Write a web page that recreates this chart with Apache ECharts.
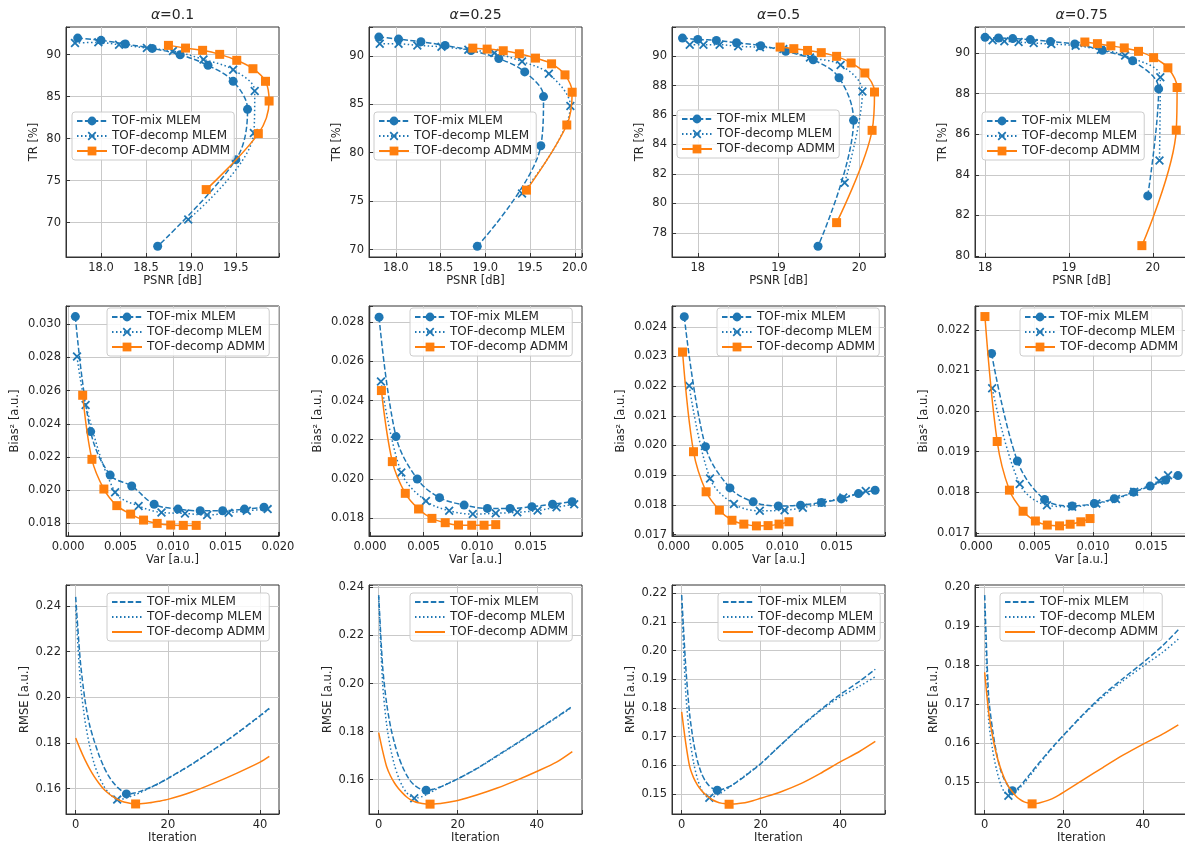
<!DOCTYPE html>
<html>
<head>
<meta charset="utf-8">
<title>TOF-mix vs TOF-decomp</title>
<script src="https://cdn.jsdelivr.net/npm/echarts@6.0.0/dist/echarts.min.js"></script>
<style>
  html, body { margin: 0; padding: 0; background: #fff; overflow: hidden; }
  #chart { width: 1185px; height: 850px; }
</style>
</head>
<body>
<div id="chart"></div>
<script>
// ---- data ----
const names = ['TOF-mix MLEM', 'TOF-decomp MLEM', 'TOF-decomp ADMM'];
const alphas = ['0.1', '0.25', '0.5', '0.75'];

// row 1: [PSNR dB, TR %]
const mix1 = [[17.74,91.98],[18.00,91.71],[18.27,91.27],[18.57,90.75],[18.88,90.00],[19.19,88.73],[19.47,86.83],[19.63,83.49],[19.50,77.50],[18.63,67.18]];
const dec1 = [[17.71,91.39],[17.97,91.47],[18.20,91.19],[18.51,90.79],[18.80,90.44],[19.14,89.44],[19.47,88.21],[19.71,85.67],[19.70,80.67],[18.97,70.36]];
const adm1 = [[18.75,91.11],[18.94,90.79],[19.13,90.52],[19.32,90.04],[19.51,89.33],[19.69,88.33],[19.83,86.83],[19.87,84.48],[19.75,80.60],[19.17,73.93]];

const mix2 = [[17.81,91.93],[18.03,91.72],[18.28,91.45],[18.55,91.07],[18.84,90.55],[19.15,89.72],[19.44,88.34],[19.65,85.79],[19.62,80.72],[18.91,70.34]];
const dec2 = [[17.82,91.24],[18.03,91.24],[18.24,91.07],[18.51,90.93],[18.81,90.62],[19.10,90.28],[19.41,89.41],[19.71,88.14],[19.95,84.83],[19.41,75.79]];
const adm2 = [[18.86,90.79],[19.02,90.69],[19.20,90.52],[19.38,90.21],[19.56,89.76],[19.74,89.17],[19.89,88.03],[19.97,86.24],[19.91,82.86],[19.46,76.14]];

const mix3 = [[17.81,91.22],[18.00,91.13],[18.23,91.06],[18.48,90.90],[18.78,90.70],[19.09,90.32],[19.43,89.75],[19.75,88.53],[19.93,85.64],[19.49,77.10]];
const dec3 = [[17.90,90.77],[18.07,90.77],[18.27,90.77],[18.50,90.66],[18.77,90.60],[19.06,90.47],[19.39,89.90],[19.77,89.40],[20.04,87.60],[19.82,81.40]];
const adm3 = [[19.02,90.61],[19.19,90.50],[19.36,90.38],[19.53,90.23],[19.72,89.98],[19.90,89.53],[20.07,88.85],[20.19,87.56],[20.16,84.96],[19.72,78.70]];

const mix4 = [[18.00,90.77],[18.16,90.74],[18.33,90.71],[18.54,90.66],[18.78,90.56],[19.07,90.44],[19.40,90.13],[19.76,89.62],[20.07,88.23],[19.94,82.96]];
const dec4 = [[18.09,90.63],[18.23,90.58],[18.40,90.54],[18.58,90.49],[18.79,90.44],[19.08,90.36],[19.38,90.16],[19.67,89.87],[20.09,88.81],[20.08,84.70]];
const adm4 = [[19.19,90.54],[19.34,90.46],[19.50,90.35],[19.66,90.25],[19.83,90.08],[20.01,89.77],[20.18,89.27],[20.29,88.30],[20.28,86.20],[19.87,80.51]];

// row 2: [Var, Bias^2]
const mix5 = [[0.00069,0.03046],[0.00215,0.02353],[0.00401,0.02091],[0.00606,0.02025],[0.00820,0.01915],[0.01047,0.01886],[0.01259,0.01876],[0.01473,0.01876],[0.01681,0.01886],[0.01867,0.01897]];
const dec5 = [[0.00085,0.02805],[0.00167,0.02514],[0.00448,0.01987],[0.00672,0.01905],[0.00890,0.01866],[0.01114,0.01860],[0.01325,0.01850],[0.01530,0.01864],[0.01703,0.01876],[0.01902,0.01886]];
const adm5 = [[0.00139,0.02572],[0.00227,0.02186],[0.00341,0.02007],[0.00464,0.01907],[0.00596,0.01856],[0.00719,0.01820],[0.00849,0.01800],[0.00978,0.01790],[0.01098,0.01788],[0.01221,0.01788]];

const mix6 = [[0.00084,0.02826],[0.00242,0.02216],[0.00441,0.01999],[0.00649,0.01904],[0.00879,0.01866],[0.01096,0.01849],[0.01308,0.01849],[0.01512,0.01858],[0.01705,0.01870],[0.01888,0.01883]];
const dec6 = [[0.00102,0.02497],[0.00292,0.02032],[0.00522,0.01887],[0.00739,0.01837],[0.00960,0.01820],[0.01174,0.01824],[0.01376,0.01829],[0.01565,0.01838],[0.01742,0.01855],[0.01907,0.01870]];
const adm6 = [[0.00106,0.02451],[0.00208,0.02088],[0.00329,0.01926],[0.00453,0.01846],[0.00578,0.01798],[0.00702,0.01776],[0.00826,0.01764],[0.00950,0.01763],[0.01065,0.01763],[0.01174,0.01766]];

const mix7 = [[0.00098,0.02434],[0.00293,0.01996],[0.00518,0.01857],[0.00732,0.01810],[0.00963,0.01796],[0.01168,0.01799],[0.01360,0.01808],[0.01543,0.01820],[0.01701,0.01838],[0.01854,0.01849]];
const dec7 = [[0.00143,0.02201],[0.00335,0.01889],[0.00555,0.01803],[0.00793,0.01780],[0.01021,0.01782],[0.01189,0.01790],[0.01363,0.01807],[0.01561,0.01825],[0.01768,0.01847]];
const adm7 = [[0.00082,0.02315],[0.00183,0.01979],[0.00299,0.01844],[0.00421,0.01782],[0.00537,0.01748],[0.00646,0.01735],[0.00762,0.01729],[0.00869,0.01730],[0.00970,0.01735],[0.01061,0.01743]];

const mix8 = [[0.00131,0.02142],[0.00352,0.01877],[0.00585,0.01782],[0.00821,0.01766],[0.01011,0.01772],[0.01182,0.01784],[0.01347,0.01800],[0.01489,0.01815],[0.01622,0.01830],[0.01727,0.01841]];
const dec8 = [[0.00136,0.02056],[0.00372,0.01820],[0.00605,0.01768],[0.00821,0.01764],[0.01028,0.01772],[0.01196,0.01783],[0.01352,0.01801],[0.01565,0.01828],[0.01642,0.01842]];
const adm8 = [[0.00074,0.02233],[0.00179,0.01925],[0.00284,0.01805],[0.00401,0.01753],[0.00506,0.01729],[0.00608,0.01719],[0.00713,0.01717],[0.00804,0.01721],[0.00895,0.01727],[0.00974,0.01735]];

// row 3: RMSE per iteration
const itShort = [0,1,2,3,4,5,6,7,8,9,10,11,12,13,14,16,18,20,25,30,35,40,42];
const itLong  = [0,1,2,3,4,5,6,7,8,9,10,11,12,13,14,16,18,20,25,30,35,40,45,49];

const mix9  = [0.244,0.216,0.199,0.188,0.181,0.175,0.170,0.166,0.163,0.1607,0.159,0.1577,0.1578,0.1582,0.1588,0.1604,0.1623,0.1645,0.1705,0.1772,0.1843,0.1920,0.1952];
const dec9  = [0.240,0.207,0.190,0.179,0.171,0.1655,0.1615,0.1585,0.1565,0.1552,0.1554,0.1559,0.1566,0.1574,0.1583,0.1602,0.1622,0.1644,0.1704,0.1771,0.1842,0.1918,0.1950];
const adm9  = [0.1822,0.1772,0.1727,0.1688,0.1654,0.1625,0.1600,0.1581,0.1566,0.1554,0.1545,0.1539,0.1535,0.1533,0.1534,0.1538,0.1545,0.1553,0.1584,0.1624,0.1668,0.1716,0.1741];

const mix10 = [0.2368,0.207,0.1918,0.1821,0.1752,0.1697,0.1655,0.1621,0.1595,0.1577,0.1566,0.1559,0.1556,0.1557,0.1561,0.1572,0.1587,0.1603,0.1648,0.1700,0.1752,0.1806,0.1860,0.1905];
const dec10 = [0.236,0.200,0.183,0.173,0.166,0.1610,0.1573,0.1547,0.1531,0.1523,0.1525,0.1530,0.1537,0.1546,0.1555,0.1572,0.1588,0.1603,0.1647,0.1698,0.1750,0.1804,0.1858,0.1902];
const adm10 = [0.1796,0.1720,0.1655,0.1615,0.1586,0.1563,0.1545,0.1529,0.1517,0.1509,0.1504,0.1501,0.1499,0.1498,0.1499,0.1502,0.1507,0.1513,0.1537,0.1565,0.1598,0.1634,0.1673,0.1717];

const mix11 = [0.2194,0.195,0.178,0.168,0.1615,0.1572,0.1545,0.1528,0.1518,0.1513,0.1515,0.1519,0.1525,0.1533,0.1542,0.1562,0.1583,0.1605,0.1670,0.1734,0.1792,0.1846,0.1893,0.1935];
const dec11 = [0.2165,0.186,0.170,0.161,0.1552,0.1515,0.1494,0.1487,0.1490,0.1496,0.1504,0.1513,0.1523,0.1533,0.1543,0.1564,0.1585,0.1606,0.1670,0.1732,0.1789,0.1838,0.1876,0.1909];
const adm11 = [0.1786,0.1680,0.1597,0.1557,0.1531,0.1512,0.1498,0.1487,0.1478,0.1472,0.1468,0.1466,0.1464,0.1465,0.1466,0.1469,0.1476,0.1485,0.1507,0.1535,0.1571,0.1611,0.1648,0.1683];

const mix12 = [0.198,0.172,0.1634,0.1574,0.1532,0.1506,0.1489,0.1478,0.1481,0.1490,0.1502,0.1515,0.1527,0.1540,0.1552,0.1576,0.1599,0.1621,0.1675,0.1724,0.1766,0.1806,0.1850,0.1891];
const dec12 = [0.195,0.166,0.1583,0.1532,0.1496,0.1474,0.1465,0.1468,0.1476,0.1486,0.1497,0.1510,0.1523,0.1536,0.1549,0.1574,0.1598,0.1620,0.1673,0.1720,0.1760,0.1797,0.1833,0.1867];
const adm12 = [0.1782,0.1680,0.1617,0.1570,0.1536,0.1509,0.1489,0.1475,0.1463,0.1455,0.1449,0.1446,0.1444,0.1445,0.1447,0.1453,0.1462,0.1474,0.1506,0.1538,0.1569,0.1597,0.1623,0.1647];

// ---- layout / styles ----
const FONT = 'DejaVu Sans';
const TXT = '#262626';
const BLUE = '#1f77b4', ORANGE = '#ff7f0e';
const X_MARK = 'path://M1.4,0 L5,3.6 L8.6,0 L10,1.4 L6.4,5 L10,8.6 L8.6,10 L5,6.4 L1.4,10 L0,8.6 L3.6,5 L0,1.4 Z';
const looks = [
  { color: BLUE, dash: [5.5, 2.4], symbol: 'circle', size: 9 },
  { color: BLUE, dash: [1.5, 2.5], symbol: X_MARK, size: 9 },
  { color: ORANGE, dash: 'solid', symbol: 'rect', size: 9 }
];

const colLeft = [66, 369, 672, 975];
const rowTop = [27, 306, 585];
const boxW = 213;
const boxH = [230, 230, 229];

// per panel: x range, y range, x step, y step, x decimals, y decimals
const axesCfg = [
  { xr: [17.61, 19.98], yr: [65.9, 93.3], xs: 0.5, ys: 5, xd: 1, yd: 0 },
  { xr: [17.70, 20.08], yr: [69.24, 92.97], xs: 0.5, ys: 5, xd: 1, yd: 0 },
  { xr: [17.68, 20.32], yr: [76.37, 91.97], xs: 1, ys: 2, xd: 0, yd: 0 },
  { xr: [17.88, 20.42], yr: [79.95, 91.28], xs: 1, ys: 2, xd: 0, yd: 0 },
  { xr: [-0.0002, 0.0201], yr: [0.01724, 0.0311], xs: 0.005, ys: 0.002, xd: 3, yd: 3 },
  { xr: [-0.0001, 0.0198], yr: [0.01708, 0.02883], xs: 0.005, ys: 0.002, xd: 3, yd: 3 },
  { xr: [-0.00015, 0.01945], yr: [0.01695, 0.0247], xs: 0.005, ys: 0.001, xd: 3, yd: 3 },
  { xr: [-0.00011, 0.01813], yr: [0.01692, 0.02259], xs: 0.005, ys: 0.001, xd: 3, yd: 3 },
  { xr: [-2.1, 44.1], yr: [0.1489, 0.2492], xs: 20, ys: 0.02, xd: 0, yd: 2 },
  { xr: [-2.45, 51.45], yr: [0.1457, 0.241], xs: 20, ys: 0.02, xd: 0, yd: 2 },
  { xr: [-2.45, 51.45], yr: [0.143, 0.2229], xs: 20, ys: 0.01, xd: 0, yd: 2 },
  { xr: [-2.45, 51.45], yr: [0.1418, 0.2006], xs: 20, ys: 0.01, xd: 0, yd: 2 }
];
const rowNames = [
  { x: 'PSNR [dB]', y: 'TR [%]', xg: 18, yg: 26 },
  { x: 'Var [a.u.]', y: 'Bias\u00b2 [a.u.]', xg: 16, yg: 45 },
  { x: 'Iteration', y: 'RMSE [a.u.]', xg: 17, yg: 35 }
];
const legendPos = [
  [72, 112], [374, 112], [677, 110], [982, 112],
  [107, 308], [410, 308], [717, 308], [1020, 308],
  [107, 593], [410, 593], [718, 593], [1000, 593]
];

const scatterRows = [
  [mix1, dec1, adm1], [mix2, dec2, adm2], [mix3, dec3, adm3], [mix4, dec4, adm4],
  [mix5, dec5, adm5], [mix6, dec6, adm6], [mix7, dec7, adm7], [mix8, dec8, adm8]
];
const rmseRows = [
  [itShort, mix9, dec9, adm9], [itLong, mix10, dec10, adm10],
  [itLong, mix11, dec11, adm11], [itLong, mix12, dec12, adm12]
];

function onStep(v, step) {
  const r = v / step;
  return Math.abs(r - Math.round(r)) < 1e-6;
}

function makeAxis(gi, range, step, dec, name, gap) {
  return {
    type: 'value', gridIndex: gi, min: range[0], max: range[1],
    splitNumber: 5, minInterval: step, maxInterval: step,
    name: name, nameLocation: 'middle', nameGap: gap,
    nameTextStyle: { fontSize: 11.5, color: TXT, fontFamily: FONT },
    axisLine: { show: true, onZero: false, lineStyle: { color: '#333', width: 1 } },
    axisTick: { show: true, inside: true, length: 4, lineStyle: { color: '#333' } },
    axisLabel: {
      fontSize: 11.5, color: TXT, fontFamily: FONT, margin: 5,
      formatter: v => onStep(v, step) ? v.toFixed(dec) : ''
    },
    splitLine: { show: true, showMinLine: false, showMaxLine: false, lineStyle: { color: '#c9c9c9', width: 1 } }
  };
}

const grid = [], xAxis = [], yAxis = [], series = [], legend = [];

for (let p = 0; p < 12; p++) {
  const row = Math.floor(p / 4), col = p % 4;
  const c = axesCfg[p], nm = rowNames[row];
  grid.push({
    left: colLeft[col], top: rowTop[row], width: boxW, height: boxH[row],
    outerBoundsMode: 'none', containLabel: false,
    show: true, borderColor: '#333', borderWidth: 1, backgroundColor: '#fff'
  });
  xAxis.push(makeAxis(p, c.xr, c.xs, c.xd, nm.x, nm.xg));
  yAxis.push(makeAxis(p, c.yr, c.ys, c.yd, nm.y, nm.yg));

  // row 3 series get a trailing space so their legend icons stay plain lines
  const legendNames = row < 2 ? names : names.map(n => n + ' ');

  for (let k = 0; k < 3; k++) {
    const lk = looks[k];
    let s = {
      type: 'line', name: legendNames[k], xAxisIndex: p, yAxisIndex: p,
      color: lk.color,
      lineStyle: { color: lk.color, width: 1.5, type: lk.dash, cap: 'butt' },
      itemStyle: { color: lk.color },
      emphasis: { disabled: true },
      animation: false, silent: true, z: 2 + k
    };
    if (row < 2) {
      s.data = scatterRows[p][k];
      s.symbol = lk.symbol;
      s.symbolSize = lk.size;
      s.showSymbol = true;
      s.showAllSymbol = true;
      s.smooth = 0.35;
    } else {
      const its = rmseRows[col][0], vals = rmseRows[col][k + 1];
      let best = 0;
      vals.forEach((v, i) => { if (v < vals[best]) best = i; });
      s.data = its.map((t, i) => i === best
        ? { value: [t, vals[i]], symbol: lk.symbol, symbolSize: lk.size }
        : [t, vals[i]]);
      s.symbol = 'none';
      s.showSymbol = true;
      s.smooth = 0.25;
    }
    series.push(s);
  }

  let lg = {
    left: legendPos[p][0], top: legendPos[p][1], orient: 'vertical',
    data: legendNames, selectedMode: false,
    formatter: n => n.trim(),
    itemWidth: 30, itemHeight: 11, itemGap: 3,
    textStyle: { fontSize: 12, color: TXT, fontFamily: FONT },
    backgroundColor: 'rgba(255,255,255,0.85)', borderColor: '#cccccc', borderWidth: 1,
    borderRadius: 3, padding: [3, 4, 3, 4]
  };
  if (row === 2) lg.itemStyle = { opacity: 0 };
  legend.push(lg);
}

const chart = echarts.init(document.getElementById('chart'), null, { renderer: 'canvas' });
chart.setOption({
  backgroundColor: '#fff',
  animation: false,
  textStyle: { fontFamily: FONT },
  grid: grid, xAxis: xAxis, yAxis: yAxis, legend: legend, series: series,
  graphic: alphas.map((a, i) => ({
    type: 'text', x: colLeft[i] + boxW / 2, y: 15,
    style: {
      text: '{i|\u03b1}{n|=' + a + '}',
      align: 'center', verticalAlign: 'middle',
      rich: {
        i: { fontStyle: 'italic', fontSize: 14, fontFamily: FONT, fill: TXT },
        n: { fontSize: 14, fontFamily: FONT, fill: TXT }
      }
    }
  }))
});
</script>
</body>
</html>
